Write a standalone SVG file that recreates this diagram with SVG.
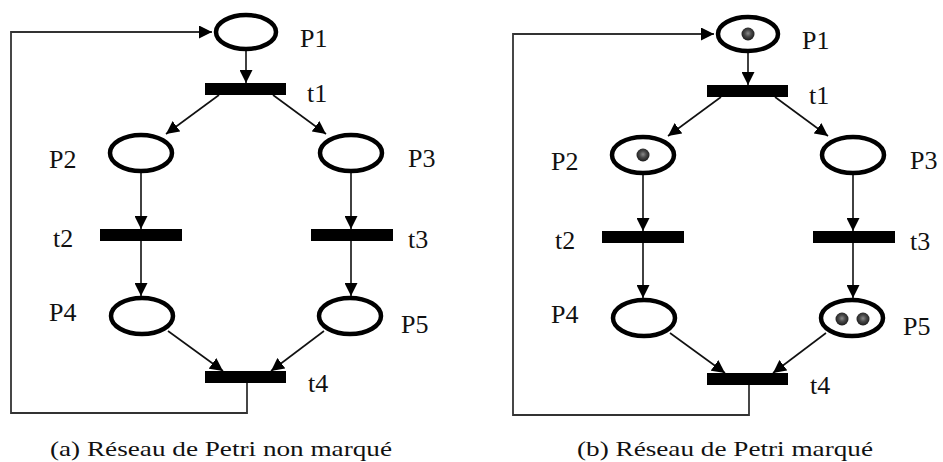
<svg xmlns="http://www.w3.org/2000/svg" width="943" height="462" viewBox="0 0 943 462">
<style>
.pl{fill:none;stroke:#000;stroke-width:4.5}
.tr{fill:#000}
.ar{fill:none;stroke:#111;stroke-width:1.6;marker-end:url(#ah)}
.fb{fill:none;stroke:#333;stroke-width:1.8;marker-end:url(#ah)}
.lb{font-size:26px;fill:#111}
.cap{font-size:21px;fill:#111}
.tk{fill:url(#tg)}
</style>
<defs>
<marker id="ah" markerUnits="userSpaceOnUse" markerWidth="14" markerHeight="13" refX="13" refY="6.5" orient="auto">
<path d="M0,0 L13,6.5 L0,13 z" fill="#000"/>
</marker>
<radialGradient id="tg" cx="50%" cy="45%" r="55%">
<stop offset="0" stop-color="#8a8a8a"/>
<stop offset="0.45" stop-color="#4a4a4a"/>
<stop offset="1" stop-color="#1a1a1a"/>
</radialGradient>
</defs>
<rect width="943" height="462" fill="#fff"/>

<g id="netA">
<g id="a-connectors">
<polyline class="fb" points="247,383 247,413 11,413 11,32 212,32"/>
<line class="ar" x1="246" y1="51" x2="246" y2="83"/>
<line class="ar" x1="219" y1="95" x2="166" y2="134"/>
<line class="ar" x1="273" y1="95" x2="326" y2="134"/>
<line class="ar" x1="141" y1="173" x2="141" y2="229"/>
<line class="ar" x1="351" y1="173" x2="351" y2="229"/>
<line class="ar" x1="141" y1="241" x2="141" y2="296"/>
<line class="ar" x1="351" y1="241" x2="351" y2="296"/>
<line class="ar" x1="168" y1="331" x2="223" y2="371"/>
<line class="ar" x1="324" y1="331" x2="271" y2="371"/>
</g>
<g font-family="Liberation Serif, DejaVu Serif, serif">
<g id="a-P1"><ellipse class="pl" cx="246" cy="32" rx="30" ry="17"/><text class="lb" x="300" y="47">P1</text></g>
<g id="a-t1"><rect class="tr" x="205" y="83" width="81" height="12"/><text class="lb" x="307" y="102">t1</text></g>
<g id="a-P2"><ellipse class="pl" cx="141" cy="153" rx="31" ry="18"/><text class="lb" x="49" y="168">P2</text></g>
<g id="a-P3"><ellipse class="pl" cx="351" cy="153" rx="31" ry="18"/><text class="lb" x="408" y="167">P3</text></g>
<g id="a-t2"><rect class="tr" x="100" y="229" width="82" height="12"/><text class="lb" x="53" y="247">t2</text></g>
<g id="a-t3"><rect class="tr" x="311" y="229" width="82" height="12"/><text class="lb" x="408" y="248">t3</text></g>
<g id="a-P4"><ellipse class="pl" cx="142" cy="316" rx="31" ry="18"/><text class="lb" x="49" y="321">P4</text></g>
<g id="a-P5"><ellipse class="pl" cx="350" cy="316" rx="31" ry="18"/><text class="lb" x="401" y="333">P5</text></g>
<g id="a-t4"><rect class="tr" x="205" y="371" width="81" height="12"/><text class="lb" x="308" y="392">t4</text></g>
</g>
</g>

<g id="netB" transform="translate(502,2)">
<g id="b-connectors">
<polyline class="fb" points="247,383 247,413 11,413 11,32 212,32"/>
<line class="ar" x1="246" y1="51" x2="246" y2="83"/>
<line class="ar" x1="219" y1="95" x2="166" y2="134"/>
<line class="ar" x1="273" y1="95" x2="326" y2="134"/>
<line class="ar" x1="141" y1="173" x2="141" y2="229"/>
<line class="ar" x1="351" y1="173" x2="351" y2="229"/>
<line class="ar" x1="141" y1="241" x2="141" y2="296"/>
<line class="ar" x1="351" y1="241" x2="351" y2="296"/>
<line class="ar" x1="168" y1="331" x2="223" y2="371"/>
<line class="ar" x1="324" y1="331" x2="271" y2="371"/>
</g>
<g font-family="Liberation Serif, DejaVu Serif, serif">
<g id="b-P1"><ellipse class="pl" cx="246" cy="32" rx="30" ry="17"/><circle class="tk" cx="246" cy="32" r="6.5"/><text class="lb" x="300" y="47">P1</text></g>
<g id="b-t1"><rect class="tr" x="205" y="83" width="81" height="12"/><text class="lb" x="307" y="102">t1</text></g>
<g id="b-P2"><ellipse class="pl" cx="141" cy="153" rx="31" ry="18"/><circle class="tk" cx="141" cy="153" r="6.5"/><text class="lb" x="49" y="168">P2</text></g>
<g id="b-P3"><ellipse class="pl" cx="351" cy="153" rx="31" ry="18"/><text class="lb" x="408" y="167">P3</text></g>
<g id="b-t2"><rect class="tr" x="100" y="229" width="82" height="12"/><text class="lb" x="53" y="247">t2</text></g>
<g id="b-t3"><rect class="tr" x="311" y="229" width="82" height="12"/><text class="lb" x="408" y="248">t3</text></g>
<g id="b-P4"><ellipse class="pl" cx="142" cy="316" rx="31" ry="18"/><text class="lb" x="49" y="321">P4</text></g>
<g id="b-P5"><ellipse class="pl" cx="350" cy="316" rx="31" ry="18"/><circle class="tk" cx="340" cy="317" r="6.5"/><circle class="tk" cx="361" cy="317" r="6.5"/><text class="lb" x="401" y="333">P5</text></g>
<g id="b-t4"><rect class="tr" x="205" y="371" width="81" height="12"/><text class="lb" x="308" y="392">t4</text></g>
</g>
</g>

<g font-family="Liberation Serif, DejaVu Serif, serif">
<text class="cap" x="50" y="456" textLength="342" lengthAdjust="spacingAndGlyphs">(a) Réseau de Petri non marqué</text>
<text class="cap" x="577" y="456" textLength="296" lengthAdjust="spacingAndGlyphs">(b) Réseau de Petri marqué</text>
</g>
</svg>
